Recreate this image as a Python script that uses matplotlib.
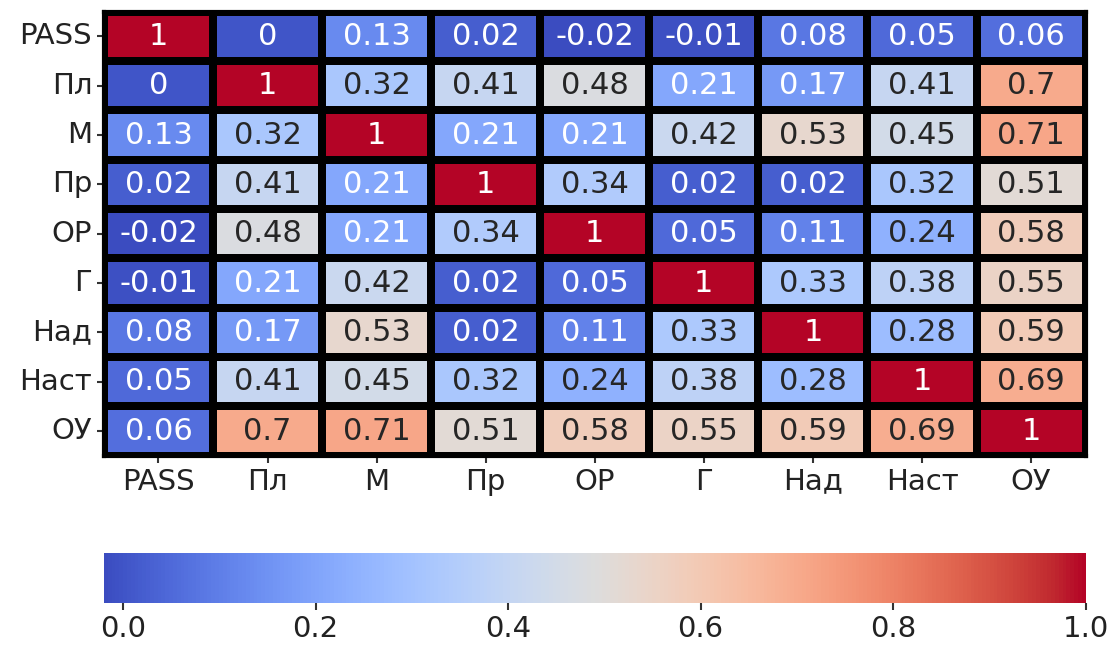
import numpy as np
import pandas as pd
import matplotlib
matplotlib.use("Agg")
import matplotlib.pyplot as plt
import seaborn as sns

labels = ["PASS", "Пл", "М", "Пр", "ОР", "Г", "Над", "Наст", "ОУ"]

row_pass = [1, 0, 0.13, 0.02, -0.02, -0.01, 0.08, 0.05, 0.06]
row_pl   = [0, 1, 0.32, 0.41, 0.48, 0.21, 0.17, 0.41, 0.7]
row_m    = [0.13, 0.32, 1, 0.21, 0.21, 0.42, 0.53, 0.45, 0.71]
row_pr   = [0.02, 0.41, 0.21, 1, 0.34, 0.02, 0.02, 0.32, 0.51]
row_or   = [-0.02, 0.48, 0.21, 0.34, 1, 0.05, 0.11, 0.24, 0.58]
row_g    = [-0.01, 0.21, 0.42, 0.02, 0.05, 1, 0.33, 0.38, 0.55]
row_nad  = [0.08, 0.17, 0.53, 0.02, 0.11, 0.33, 1, 0.28, 0.59]
row_nast = [0.05, 0.41, 0.45, 0.32, 0.24, 0.38, 0.28, 1, 0.69]
row_ou   = [0.06, 0.7, 0.71, 0.51, 0.58, 0.55, 0.59, 0.69, 1]

corr = pd.DataFrame([row_pass, row_pl, row_m, row_pr, row_or,
                     row_g, row_nad, row_nast, row_ou],
                    index=labels, columns=labels)

fig = plt.figure(figsize=(11.13, 6.54), dpi=100)
ax = fig.add_axes([0.0934, 0.303, 0.882, 0.679])
cax = fig.add_axes([0.0934, 0.078, 0.882, 0.077])

sns.heatmap(corr, ax=ax, cbar_ax=cax, cmap="coolwarm", annot=True,
            linewidths=5.5, linecolor="black",
            annot_kws={"fontsize": 22},
            cbar_kws={"orientation": "horizontal"})

ax.tick_params(axis="both", labelsize=21, length=5, width=1.5,
               color="#333333", labelcolor="#222222")
ax.set_yticklabels(labels, rotation=0)
ax.set_xticklabels(labels, rotation=0)
for side in ["top", "bottom", "left", "right"]:
    ax.spines[side].set_visible(True)
    ax.spines[side].set_color("black")
    ax.spines[side].set_linewidth(3)

cax.tick_params(labelsize=21, length=5, width=1.5,
                color="#333333", labelcolor="#222222")
cax.set_xticks([0.0, 0.2, 0.4, 0.6, 0.8, 1.0])

fig.savefig("out.png", dpi=100)
